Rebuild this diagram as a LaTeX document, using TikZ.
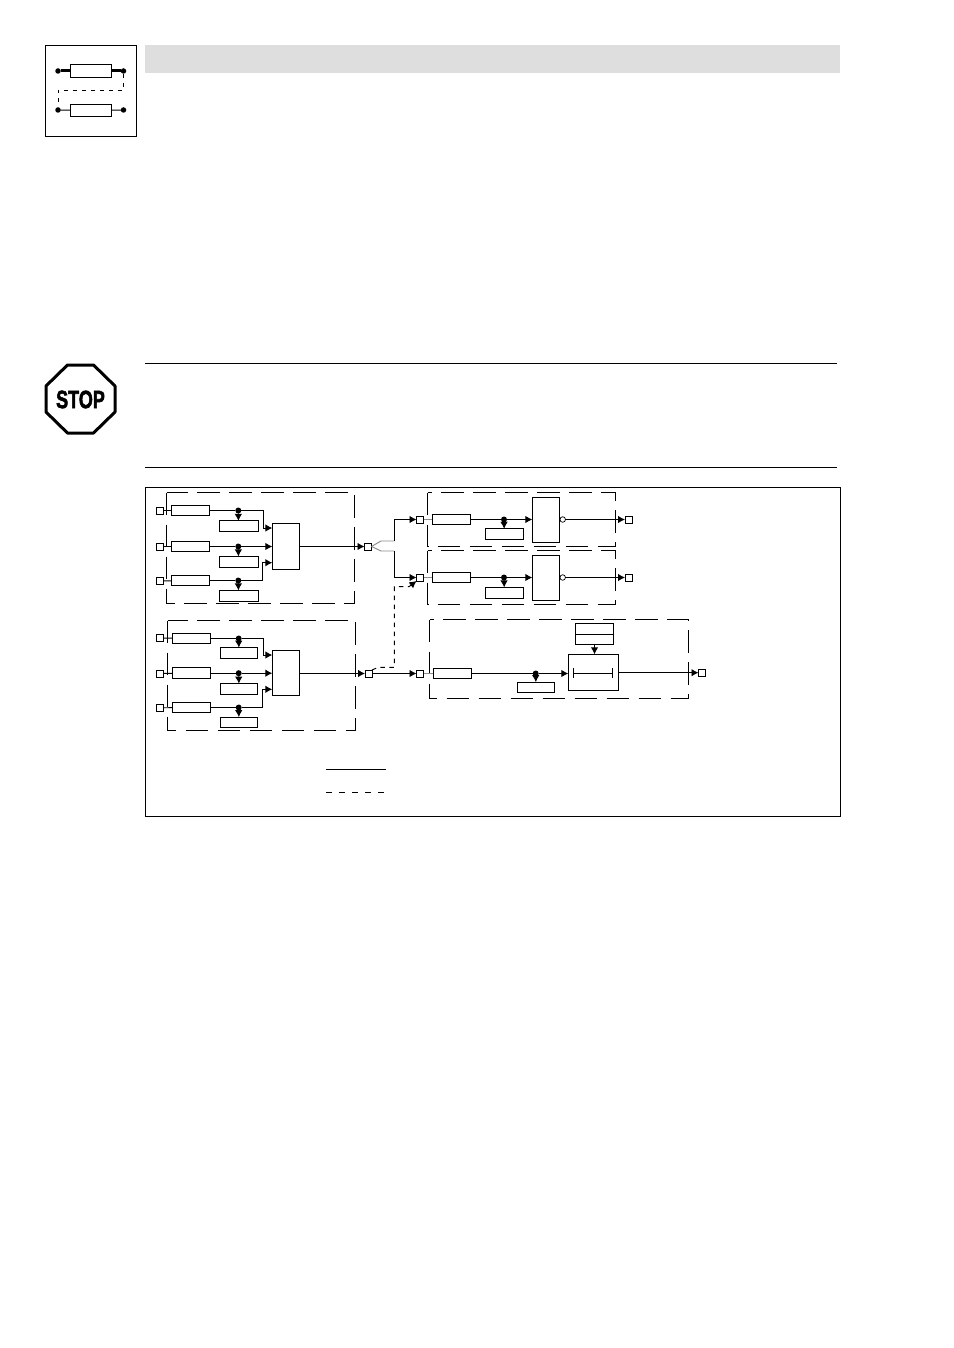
\documentclass[tikz,border=0pt]{standalone}
\usepackage{fontspec}
\setmainfont{Liberation Sans}
\newfontface\stopfont[FakeBold=2.5]{Liberation Sans Bold}
\usetikzlibrary{arrows.meta,calc}
\tikzset{
  ln/.style={line width=0.95pt,black},
  tip/.style={ln,-{Latex[length=7pt,width=7.5pt]}},
  term/.style={draw,ln,fill=white,minimum size=7pt,inner sep=0pt,outer sep=0pt},
  wbox/.style={draw,ln,fill=white,minimum width=38.4pt,minimum height=10.8pt,inner sep=0pt,outer sep=0pt},
  sbox/.style={draw,ln,fill=white,minimum width=38pt,minimum height=10.8pt,inner sep=0pt,outer sep=0pt},
  tall/.style={draw,ln,fill=white,minimum width=27.4pt,minimum height=46pt,inner sep=0pt,outer sep=0pt},
  joint/.style={circle,fill=black,minimum size=6pt,inner sep=0pt,outer sep=0pt},
  dot/.style={circle,fill=black,minimum size=5.5pt,inner sep=0pt,outer sep=0pt},
  ring/.style={circle,draw,line width=0.7pt,fill=white,minimum size=5.5pt,inner sep=0pt,outer sep=0pt},
  dbox/.style={ln,dash pattern=on 22.5pt off 9.5pt},
  feed/.style={line width=0.95pt,black!45},
}
\begin{document}
\begin{tikzpicture}[x=1pt,y=-1pt]
\useasboundingbox (0,0) rectangle (953,1348);
% header
\fill[black!13] (145,45) rectangle (840,73);
\draw[ln] (45.5,45.5) rectangle (136.5,136.5);
\node[dot] (i1) at (58,71) {};
\node[dot] (i2) at (123.5,71) {};
\node[dot] (i3) at (58,110) {};
\node[dot] (i4) at (123.5,110) {};
\node[draw,ln,fill=white,minimum width=41.4pt,minimum height=12.3pt,inner sep=0pt,outer sep=0pt] (ib1) at (91,71) {};
\node[draw,ln,fill=white,minimum width=41.4pt,minimum height=12.3pt,inner sep=0pt,outer sep=0pt] (ib2) at (91,110.5) {};
\draw[line width=3pt] (i1) -- (ib1);
\draw[line width=3pt] (ib1) -- (i2);
\draw[ln] (i3) -- (ib2);
\draw[ln] (ib2) -- (i4);
\draw[ln,dash pattern=on 4pt off 5pt] (i2) -- ++(0,19) -| (i3);
% stop sign
\draw[line width=3pt,line join=round] (67.5,365) -- (93.5,365) -- (115,386) -- (115,412) -- (93.5,433) -- (67.5,433) -- (46,412) -- (46,386) -- cycle;
\node[inner sep=0pt,font=\stopfont\fontsize{25}{25}\selectfont,xscale=0.72] (stoptext) at (80.5,399.5) {STOP};
% rules and frame
\draw[ln] (145,363.5) -- (837,363.5);
\draw[ln] (145,467.5) -- (837,467.5);
\draw[ln] (145.5,487.5) rectangle (840.5,816.5);
% dashed groups
\draw[dbox] (166.5,492.5) rectangle (354.5,603);
\draw[dbox] (167.5,620.5) rectangle (355.5,730.5);
\draw[dbox] (427.5,492.5) rectangle (615.5,546.5);
\draw[dbox] (427.5,550.5) rectangle (615.5,604.5);
\draw[dbox] (429.5,619.5) rectangle (688.5,698.5);
% upper-left group
\node[term] (ua) at (160,510.5) {};
\node[term] (ub) at (160,546.5) {};
\node[term] (uc) at (160,581) {};
\node[wbox] (ua1) at (190.5,510.5) {};
\node[wbox] (ub1) at (190.5,546.5) {};
\node[wbox] (uc1) at (190.5,580.5) {};
\node[sbox,minimum width=39pt] (ua2) at (238.5,526.3) {};
\node[sbox,minimum width=39pt] (ub2) at (238.5,561.8) {};
\node[sbox,minimum width=39pt] (uc2) at (238.5,595.8) {};
\node[joint] (uad) at (238.3,510.5) {};
\node[joint] (ubd) at (238.3,546.5) {};
\node[joint] (ucd) at (238.3,580.5) {};
\node[tall] (um) at (286,546.3) {};
\node[term] (uo) at (368,546.5) {};
\coordinate (uat) at (263.3,528);
\coordinate (uct) at (262.3,562.7);
\draw[ln] (ua) -- (ua1);
\draw[ln] (ub) -- (ub1);
\draw[ln] (uc) -- (uc1);
\draw[ln] (ua1) -- (uad);
\draw[ln] (ub1) -- (ubd);
\draw[ln] (uc1) -- (ucd);
\draw[tip] (uad) -- (ua2);
\draw[tip] (ubd) -- (ub2);
\draw[tip] (ucd) -- (uc2);
\draw[tip] (uad) -| (uat) -- (um.west |- uat);
\draw[tip] (ubd) -- (um.west |- ubd);
\draw[tip] (ucd) -| (uct) -- (um.west |- uct);
\draw[tip] (um.east |- uo) -- (uo);
% lower-left group
\node[term] (la) at (160,638) {};
\node[term] (lb) at (160,673.5) {};
\node[term] (lc) at (160,707.8) {};
\node[wbox] (la1) at (191.5,638.5) {};
\node[wbox] (lb1) at (191.5,673.2) {};
\node[wbox] (lc1) at (191.5,707.5) {};
\node[sbox,minimum width=37.4pt] (la2) at (239,653) {};
\node[sbox,minimum width=37.4pt] (lb2) at (239,689) {};
\node[sbox,minimum width=37.4pt] (lc2) at (239,722.5) {};
\node[joint] (lad) at (238.7,638.5) {};
\node[joint] (lbd) at (238.7,673.2) {};
\node[joint] (lcd) at (238.7,707.5) {};
\node[tall,minimum height=45.4pt] (lm) at (286,673) {};
\node[term] (lo) at (368.5,673.5) {};
\coordinate (lat) at (263.3,655);
\coordinate (lct) at (262.3,689.3);
\draw[ln] (la) -- (la1);
\draw[ln] (lb) -- (lb1);
\draw[ln] (lc) -- (lc1);
\draw[ln] (la1) -- (lad);
\draw[ln] (lb1) -- (lbd);
\draw[ln] (lc1) -- (lcd);
\draw[tip] (lad) -- (la2);
\draw[tip] (lbd) -- (lb2);
\draw[tip] (lcd) -- (lc2);
\draw[tip] (lad) -| (lat) -- (lm.west |- lat);
\draw[tip] (lbd) -- (lm.west |- lbd);
\draw[tip] (lcd) -| (lct) -- (lm.west |- lct);
\draw[tip] (lm.east |- lo) -- (lo);
% upper-right channels
\node[term] (ra) at (420,519.5) {};
\node[term] (rb) at (420,577.5) {};
\node[wbox] (ra1) at (451.5,519.5) {};
\node[wbox] (rb1) at (451.5,577.5) {};
\node[sbox] (ra2) at (504.3,534.2) {};
\node[sbox] (rb2) at (504.3,592.8) {};
\node[joint] (rad) at (504,519.5) {};
\node[joint] (rbd) at (504,577.5) {};
\node[tall,minimum width=27pt,minimum height=45pt] (rat) at (545.8,519.8) {};
\node[tall,minimum width=27pt,minimum height=45pt] (rbt) at (545.8,577.8) {};
\node[ring] (rac) at (562.7,519.5) {};
\node[ring] (rbc) at (562.7,577.5) {};
\node[term] (rao) at (628.5,519.5) {};
\node[term] (rbo) at (628.5,577.5) {};
\coordinate (rs1) at (381,541);
\coordinate (rs2) at (381,551);
\draw[feed] (uo.east) -- (rs1) -- (394.3,541);
\draw[feed] (uo.east) -- (rs2) -- (394.3,551);
\draw[tip] (394.3,541) |- (ra);
\draw[tip] (394.3,551) |- (rb);
\draw[feed] (ra) -- (ra1);
\draw[feed] (rb) -- (rb1);
\draw[ln] (ra1) -- (rad);
\draw[ln] (rb1) -- (rbd);
\draw[tip] (rad) -- (ra2);
\draw[tip] (rbd) -- (rb2);
\draw[tip] (rad) -- (rat.west |- rad);
\draw[tip] (rbd) -- (rbt.west |- rbd);
\draw[tip] (rac) -- (rao);
\draw[tip] (rbc) -- (rbo);
% dashed link from lower block
\coordinate (dk1) at (378.3,667.3);
\coordinate (dk2) at (394.3,667.3);
\coordinate (dk3) at (394.3,586.7);
\coordinate (dk4) at (409,586.7);
\draw[ln,dash pattern=on 4.5pt off 4.5pt] (lo.north east) -- (dk1) -- (dk2) -- (dk3) -- (dk4);
\draw[tip] (dk4) -- (rb.south west);
% lower-right channel
\node[term] (sa) at (420,673.5) {};
\node[wbox] (sa1) at (452.5,673.5) {};
\node[sbox,minimum width=37.4pt] (sa2) at (536,687.5) {};
\node[joint] (sad) at (535.7,673.5) {};
\node[draw,ln,fill=white,minimum width=50.4pt,minimum height=36.4pt,inner sep=0pt,outer sep=0pt] (sm) at (593.5,672.5) {};
\node[draw,ln,fill=white,minimum width=38.4pt,minimum height=21.4pt,inner sep=0pt,outer sep=0pt] (st) at (594.5,634) {};
\node[term] (so) at (702,672.7) {};
\draw[ln] (st.west) -- (st.east);
\draw[tip] (lo) -- (sa);
\draw[feed] (sa) -- (sa1);
\draw[ln] (sa1) -- (sad);
\draw[tip] (sad) -- (sa2);
\draw[tip] (sad) -- (sm.west |- sad);
\draw[tip] (st) -- (st |- sm.north);
\draw[tip] (sm.east |- so) -- (so);
\draw[ln] (573.3,668) -- (573.3,677.7);
\draw[ln] (612.7,668) -- (612.7,677.7);
\draw[ln] (573.3,673.3) -- (612.7,673.3);
% legend
\draw[ln] (326,769.5) -- (386,769.5);
\draw[ln,dash pattern=on 6pt off 7pt] (326,792.5) -- (386,792.5);
\end{tikzpicture}
\end{document}
